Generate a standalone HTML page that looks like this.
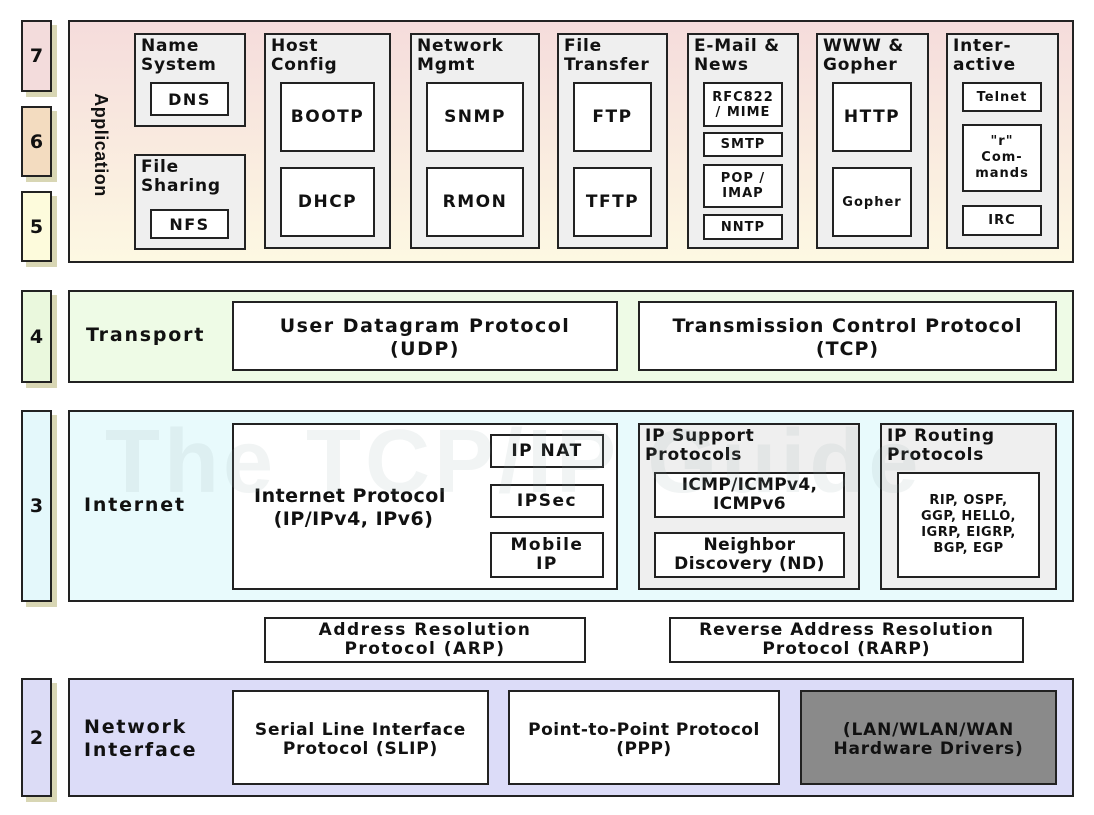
<!DOCTYPE html>
<html><head><meta charset="utf-8"><style>
body{margin:0;width:1094px;height:815px;background:#fff;position:relative;overflow:hidden;font-family:"DejaVu Sans","Liberation Sans",sans-serif;font-weight:bold;color:#111}
div{position:absolute;box-sizing:border-box}
.tab{left:21px;width:31px;border:2.5px solid #222;box-shadow:5px 5px 0 #d8d6b4;display:flex;align-items:center;justify-content:center;font-size:19px}
.lay{left:68px;width:1006px;border:2.5px solid #222}
.g{background:#efefef;border:2.5px solid #222;font-size:17px;line-height:19px;padding:2px 5px;letter-spacing:0.8px;white-space:nowrap}
.w{background:#fff;border:2.5px solid #222;display:flex;align-items:center;justify-content:center;text-align:center;letter-spacing:1.5px;white-space:nowrap}
.s{letter-spacing:1px}
.L{font-size:19px;letter-spacing:1.8px}
</style></head><body>
<div class="tab" style="top:20px;height:72px;background:#f3dcdc">7</div>
<div class="tab" style="top:106px;height:71px;background:#f3dcc0">6</div>
<div class="tab" style="top:191px;height:71px;background:#fdfbdc">5</div>
<div class="tab" style="top:290px;height:93px;background:#eaf8dd">4</div>
<div class="tab" style="top:410px;height:192px;background:#e4f8fb">3</div>
<div class="tab" style="top:678px;height:119px;background:#dcdcf6">2</div>

<div class="lay" style="top:20px;height:243px;background:linear-gradient(#f5dcdc,#fdf8e2)"></div>
<div style="left:86px;top:90px;width:30px;height:110px;"><div style="left:-40px;top:40px;width:110px;height:30px;transform:rotate(90deg);font-size:18px;text-align:center;line-height:30px;font-family:'Liberation Sans',sans-serif;letter-spacing:0.5px">Application</div></div>

<div class="g" style="left:134px;top:33px;width:112px;height:94px">Name<br>System</div>
<div class="w" style="left:150px;top:82px;width:79px;height:34px;font-size:16px">DNS</div>
<div class="g" style="left:134px;top:154px;width:112px;height:96px">File<br>Sharing</div>
<div class="w" style="left:150px;top:209px;width:79px;height:30px;font-size:16px">NFS</div>

<div class="g" style="left:264px;top:33px;width:127px;height:216px">Host<br>Config</div>
<div class="w" style="left:280px;top:82px;width:95px;height:70px;font-size:17px">BOOTP</div>
<div class="w" style="left:280px;top:167px;width:95px;height:70px;font-size:17px">DHCP</div>

<div class="g" style="left:410px;top:33px;width:130px;height:216px">Network<br>Mgmt</div>
<div class="w" style="left:426px;top:82px;width:98px;height:70px;font-size:17px">SNMP</div>
<div class="w" style="left:426px;top:167px;width:98px;height:70px;font-size:17px">RMON</div>

<div class="g" style="left:557px;top:33px;width:111px;height:216px">File<br>Transfer</div>
<div class="w" style="left:573px;top:82px;width:79px;height:70px;font-size:17px">FTP</div>
<div class="w" style="left:573px;top:167px;width:79px;height:70px;font-size:17px">TFTP</div>

<div class="g" style="left:687px;top:33px;width:112px;height:216px">E-Mail &amp;<br>News</div>
<div class="w s" style="left:703px;top:82px;width:80px;height:45px;font-size:13px;line-height:15px">RFC822<br>/ MIME</div>
<div class="w s" style="left:703px;top:132px;width:80px;height:25px;font-size:13px">SMTP</div>
<div class="w s" style="left:703px;top:164px;width:80px;height:44px;font-size:13px;line-height:15px">POP /<br>IMAP</div>
<div class="w s" style="left:703px;top:214px;width:80px;height:26px;font-size:13px">NNTP</div>

<div class="g" style="left:816px;top:33px;width:113px;height:216px">WWW &amp;<br>Gopher</div>
<div class="w" style="left:832px;top:82px;width:80px;height:70px;font-size:17px">HTTP</div>
<div class="w s" style="left:832px;top:167px;width:80px;height:70px;font-size:13px">Gopher</div>

<div class="g" style="left:946px;top:33px;width:113px;height:216px">Inter-<br>active</div>
<div class="w s" style="left:962px;top:82px;width:80px;height:30px;font-size:13px">Telnet</div>
<div class="w s" style="left:962px;top:124px;width:80px;height:68px;font-size:13px;line-height:16px">"r"<br>Com-<br>mands</div>
<div class="w s" style="left:962px;top:205px;width:80px;height:31px;font-size:13px">IRC</div>

<div class="lay" style="top:290px;height:93px;background:#eefbe6"></div>
<div class="L" style="left:86px;top:324px">Transport</div>
<div class="w" style="left:232px;top:301px;width:386px;height:70px;font-size:19px;line-height:23px;align-items:flex-start;padding-top:12px">User Datagram Protocol<br>(UDP)</div>
<div class="w" style="left:638px;top:301px;width:419px;height:70px;font-size:19px;line-height:23px;align-items:flex-start;padding-top:12px;letter-spacing:1px">Transmission Control Protocol<br>(TCP)</div>

<div class="lay" style="top:410px;height:192px;background:#e8fafc"></div>
<div class="L" style="left:84px;top:494px">Internet</div>
<div class="w" style="left:232px;top:423px;width:386px;height:167px;font-size:19px;line-height:23px;justify-content:flex-start;padding-left:20px;align-items:flex-start;padding-top:60px;letter-spacing:0.5px">Internet Protocol<br>&nbsp;(IP/IPv4, IPv6)</div>
<div class="w" style="left:490px;top:434px;width:114px;height:34px;font-size:17px">IP NAT</div>
<div class="w" style="left:490px;top:484px;width:114px;height:34px;font-size:17px">IPSec</div>
<div class="w" style="left:490px;top:532px;width:114px;height:46px;font-size:17px;line-height:19px">Mobile<br>IP</div>
<div class="g" style="left:638px;top:423px;width:222px;height:167px">IP Support<br>Protocols</div>
<div class="w" style="left:654px;top:472px;width:191px;height:46px;font-size:17px;line-height:19px;letter-spacing:0.3px">ICMP/ICMPv4,<br>ICMPv6</div>
<div class="w" style="left:654px;top:532px;width:191px;height:46px;font-size:17px;line-height:19px;letter-spacing:0.5px">Neighbor<br>Discovery (ND)</div>
<div class="g" style="left:880px;top:423px;width:177px;height:167px">IP Routing<br>Protocols</div>
<div class="w" style="left:897px;top:472px;width:143px;height:106px;font-size:13px;line-height:16px;letter-spacing:0.5px">RIP, OSPF,<br>GGP, HELLO,<br>IGRP, EIGRP,<br>BGP, EGP</div>
<div style="left:105px;top:412px;font-size:90px;color:rgba(150,170,170,0.13);white-space:nowrap;letter-spacing:4px;line-height:100px;font-family:'Liberation Sans',sans-serif">The TCP/IP Guide</div>

<div class="w" style="left:264px;top:617px;width:322px;height:46px;font-size:17px;line-height:19px">Address Resolution<br>Protocol (ARP)</div>
<div class="w" style="left:669px;top:617px;width:355px;height:46px;font-size:17px;line-height:19px;letter-spacing:1px">Reverse Address Resolution<br>Protocol (RARP)</div>

<div class="lay" style="top:678px;height:119px;background:#dcdcf8"></div>
<div class="L" style="left:84px;top:716px;line-height:23px">Network<br>Interface</div>
<div class="w" style="left:232px;top:690px;width:257px;height:95px;font-size:17px;line-height:19px;align-items:flex-start;padding-top:29px;letter-spacing:0.8px">Serial Line Interface<br>Protocol (SLIP)</div>
<div class="w" style="left:508px;top:690px;width:272px;height:95px;font-size:17px;line-height:19px;align-items:flex-start;padding-top:29px;letter-spacing:0.5px">Point-to-Point Protocol<br>(PPP)</div>
<div class="w" style="left:800px;top:690px;width:257px;height:95px;font-size:17px;line-height:19px;background:#8a8a8a;align-items:flex-start;padding-top:29px;letter-spacing:0.8px">(LAN/WLAN/WAN<br>Hardware Drivers)</div>
</body></html>
